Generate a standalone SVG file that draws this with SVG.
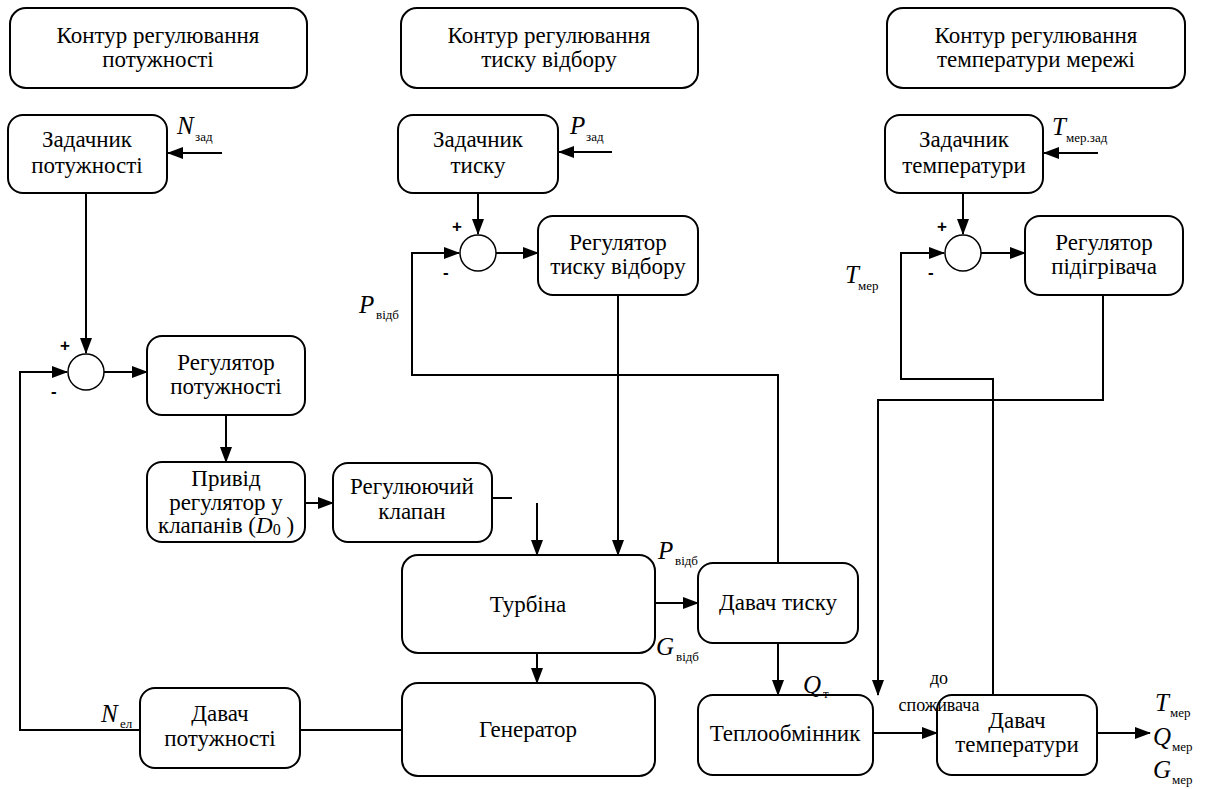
<svg xmlns="http://www.w3.org/2000/svg" width="1206" height="789" viewBox="0 0 1206 789">
<defs>
<style>
.box{fill:#fff;stroke:#000;stroke-width:2}
.ln{fill:none;stroke:#000;stroke-width:2}
.sum{fill:#fff;stroke:#000;stroke-width:1.5}
.t{font-size:23px;text-anchor:middle;fill:#000}
.v{font-size:25px;font-style:italic;fill:#000}
.s{font-size:13px;fill:#000}
.sg{font-size:17px;font-weight:bold;fill:#000}
.sm{font-size:18px;text-anchor:middle;fill:#000}
</style>
<marker id="ar" markerUnits="userSpaceOnUse" markerWidth="16" markerHeight="12" refX="15" refY="6" orient="auto">
<path d="M0,0 L16,6 L0,12 Z" fill="#000"/>
</marker>
</defs>
<rect width="1206" height="789" fill="#fff"/>

<g id="connectors">
<path class="ln" d="M222,153 H168" marker-end="url(#ar)"/>
<path class="ln" d="M612,152 H559" marker-end="url(#ar)"/>
<path class="ln" d="M1098,153 H1044" marker-end="url(#ar)"/>
<path class="ln" d="M86,193 V353" marker-end="url(#ar)"/>
<path class="ln" d="M104,372 H147" marker-end="url(#ar)"/>
<path class="ln" d="M140,730 H20 V372 H67" marker-end="url(#ar)"/>
<path class="ln" d="M226,415 V462" marker-end="url(#ar)"/>
<path class="ln" d="M305,503 H333" marker-end="url(#ar)"/>
<path class="ln" d="M492,498 H512"/>
<path class="ln" d="M537,503 V555" marker-end="url(#ar)"/>
<path class="ln" d="M618,295 V555" marker-end="url(#ar)"/>
<path class="ln" d="M478,193 V234" marker-end="url(#ar)"/>
<path class="ln" d="M496,253 H538" marker-end="url(#ar)"/>
<path class="ln" d="M778,563 V375 H412 V253 H459" marker-end="url(#ar)"/>
<path class="ln" d="M655,603 H698" marker-end="url(#ar)"/>
<path class="ln" d="M778,643 V695" marker-end="url(#ar)"/>
<path class="ln" d="M537,653 V683" marker-end="url(#ar)"/>
<path class="ln" d="M402,730 H300"/>
<path class="ln" d="M1103,295 V400 H878 V695" marker-end="url(#ar)"/>
<path class="ln" d="M993,695 V379 H901 V253 H944" marker-end="url(#ar)"/>
<path class="ln" d="M963,193 V234" marker-end="url(#ar)"/>
<path class="ln" d="M981,253 H1025" marker-end="url(#ar)"/>
<path class="ln" d="M873,733 H937" marker-end="url(#ar)"/>
<path class="ln" d="M1097,733 H1150" marker-end="url(#ar)"/>
</g>

<g font-family="Liberation Serif, DejaVu Serif, serif">
<g id="kontur-pot"><rect class="box" x="10" y="8" width="297" height="80" rx="16"/>
<text class="t" x="158" y="43">Контур регулювання</text><text class="t" x="158" y="67">потужності</text></g>
<g id="kontur-tysk"><rect class="box" x="401" y="8" width="297" height="80" rx="16"/>
<text class="t" x="549" y="43">Контур регулювання</text><text class="t" x="549" y="67">тиску відбору</text></g>
<g id="kontur-temp"><rect class="box" x="887" y="8" width="298" height="80" rx="16"/>
<text class="t" x="1036" y="43">Контур регулювання</text><text class="t" x="1036" y="67">температури мережі</text></g>

<g id="zad-pot"><rect class="box" x="8" y="115" width="159" height="78" rx="15"/>
<text class="t" x="87" y="147">Задачник</text><text class="t" x="87" y="173">потужності</text></g>
<g id="zad-tysk"><rect class="box" x="398" y="115" width="160" height="78" rx="15"/>
<text class="t" x="478" y="147">Задачник</text><text class="t" x="478" y="173">тиску</text></g>
<g id="zad-temp"><rect class="box" x="885" y="115" width="158" height="78" rx="15"/>
<text class="t" x="964" y="147">Задачник</text><text class="t" x="964" y="173">температури</text></g>

<g id="sum-pot" font-family="Liberation Sans, sans-serif"><circle class="sum" cx="86" cy="372" r="18"/><text class="sg" x="60" y="351">+</text><text class="sg" x="51" y="397">-</text></g>
<g id="sum-tysk" font-family="Liberation Sans, sans-serif"><circle class="sum" cx="478" cy="253" r="18"/><text class="sg" x="452" y="232">+</text><text class="sg" x="443" y="278">-</text></g>
<g id="sum-temp" font-family="Liberation Sans, sans-serif"><circle class="sum" cx="963" cy="253" r="18"/><text class="sg" x="937" y="232">+</text><text class="sg" x="928" y="278">-</text></g>

<g id="reg-pot"><rect class="box" x="147" y="336" width="158" height="79" rx="15"/>
<text class="t" x="226" y="370">Регулятор</text><text class="t" x="226" y="394">потужності</text></g>
<g id="pryvid"><rect class="box" x="147" y="462" width="158" height="80" rx="15"/>
<text class="t" x="226" y="486">Привід</text><text class="t" x="226" y="510">регулятор у</text>
<text class="t" x="226" y="533">клапанів (<tspan font-style="italic">D</tspan><tspan font-size="16" dy="2">0</tspan><tspan dy="-2"> )</tspan></text></g>
<g id="klapan"><rect class="box" x="333" y="463" width="159" height="79" rx="15"/>
<text class="t" x="412" y="494">Регулюючий</text><text class="t" x="412" y="519">клапан</text></g>
<g id="reg-tysk"><rect class="box" x="538" y="216" width="160" height="79" rx="15"/>
<text class="t" x="618" y="250">Регулятор</text><text class="t" x="618" y="274">тиску відбору</text></g>
<g id="reg-pidigr"><rect class="box" x="1025" y="216" width="158" height="79" rx="15"/>
<text class="t" x="1104" y="250">Регулятор</text><text class="t" x="1104" y="274">підігрівача</text></g>
<g id="turbina"><rect class="box" x="402" y="555" width="253" height="98" rx="16"/>
<text class="t" x="528" y="612">Турбіна</text></g>
<g id="generator"><rect class="box" x="402" y="683" width="253" height="93" rx="16"/>
<text class="t" x="528" y="737">Генератор</text></g>
<g id="davach-pot"><rect class="box" x="140" y="688" width="160" height="80" rx="15"/>
<text class="t" x="220" y="721">Давач</text><text class="t" x="220" y="746">потужності</text></g>
<g id="davach-tysk"><rect class="box" x="698" y="563" width="160" height="80" rx="15"/>
<text class="t" x="778" y="610">Давач тиску</text></g>
<g id="teploobm"><rect class="box" x="698" y="695" width="175" height="80" rx="15"/>
<text class="t" x="785" y="741">Теплообмінник</text></g>
<g id="davach-temp"><rect class="box" x="937" y="695" width="160" height="80" rx="15"/>
<text class="t" x="1017" y="728">Давач</text><text class="t" x="1017" y="752">температури</text></g>

<g id="labels">
<text class="v" x="177" y="134">N</text><text class="s" x="195" y="141">зад</text>
<text class="v" x="570" y="134">P</text><text class="s" x="586" y="141">зад</text>
<text class="v" x="1052" y="135">T</text><text class="s" x="1066" y="142">мер.зад</text>
<text class="v" x="359" y="313">P</text><text class="s" x="376" y="319">відб</text>
<text class="v" x="845" y="283">T</text><text class="s" x="858" y="290">мер</text>
<text class="v" x="658" y="559">P</text><text class="s" x="675" y="565">відб</text>
<text class="v" x="656" y="655">G</text><text class="s" x="676" y="661">відб</text>
<text class="v" x="803" y="693">Q</text><text class="s" x="823" y="698">т</text>
<text class="sm" x="939" y="684">до</text><text class="sm" x="939" y="711">споживача</text>
<text class="v" x="101" y="722">N</text><text class="s" x="120" y="728">ел</text>
<text class="v" x="1155" y="711">T</text><text class="s" x="1170" y="717">мер</text>
<text class="v" x="1153" y="745">Q</text><text class="s" x="1172" y="751">мер</text>
<text class="v" x="1153" y="778">G</text><text class="s" x="1172" y="784">мер</text>
</g>
</g>
</svg>
